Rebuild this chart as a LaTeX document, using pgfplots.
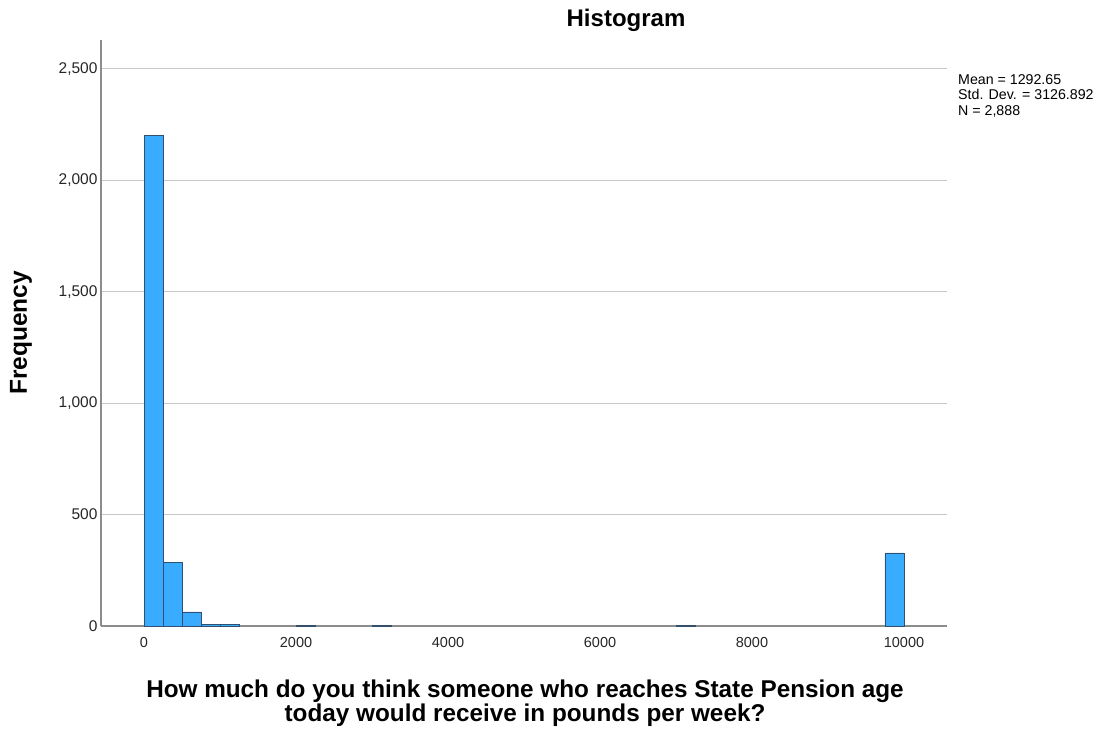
\documentclass[border=0pt]{standalone}
\usepackage{pgfplots}
\pgfplotsset{compat=1.18}
\usepackage{fontspec}
\setmainfont{Liberation Sans}
\definecolor{barfill}{RGB}{58,172,255}
\definecolor{baredge}{RGB}{50,80,110}
\definecolor{gridc}{RGB}{200,200,200}
\definecolor{axc}{RGB}{140,140,140}
\begin{document}
\begin{tikzpicture}[x=1pt,y=1pt]
\path[use as bounding box] (0,0) rectangle (1118,728);
\begin{axis}[
  at={(101pt,102pt)}, anchor=south west,
  scale only axis, width=846pt, height=586pt,
  xmin=-566, xmax=10566, ymin=0, ymax=2630,
  axis x line*=bottom, axis y line*=left,
  axis line style={axc, line width=1.2pt},
  every outer x axis line/.append style={-},
  every outer y axis line/.append style={-},
  xtick={0,2000,4000,6000,8000,10000},
  ytick={0,500,1000,1500,2000,2500},
  yticklabels={0,500,{1,000},{1,500},{2,000},{2,500}},
  x tick label style={/pgf/number format/1000 sep={}, /pgf/number format/fixed, font=\fontsize{14.5}{16}\selectfont, text=black!85},
  scaled x ticks=false,
  /pgf/number format/assume math mode=true,
  tick style={draw=none},
  y tick label style={font=\fontsize{15.5}{17}\selectfont, text=black!85},
  ymajorgrids, grid style={gridc, line width=1pt},
  xticklabel shift=8pt, yticklabel shift=0pt,
]
\addplot[ybar, bar width=250, bar shift=0pt, fill=barfill, draw=baredge, line width=0.8pt]
coordinates {
(125,2203) (375,287) (625,63) (875,5) (1125,5) (2125,2) (3125,2) (7125,2) (9875,328)
};
\end{axis}
\node[font=\bfseries\fontsize{24}{28}\selectfont] at (626,708) {Histogram};
\node[font=\bfseries\fontsize{24.5}{28}\selectfont, rotate=90] at (21,395) {Frequency};
\node[font=\bfseries\fontsize{24.3}{22}\selectfont, align=center] at (525,25) {How much do you think someone who reaches State Pension age\\[0pt]today would receive in pounds per week?};
\node[font=\fontsize{14.2}{15.5}\selectfont, align=left, anchor=north west, inner sep=0pt] at (958,654) {Mean = 1292.65\\Std. Dev. = 3126.892\\N = 2,888};
\end{tikzpicture}
\end{document}
